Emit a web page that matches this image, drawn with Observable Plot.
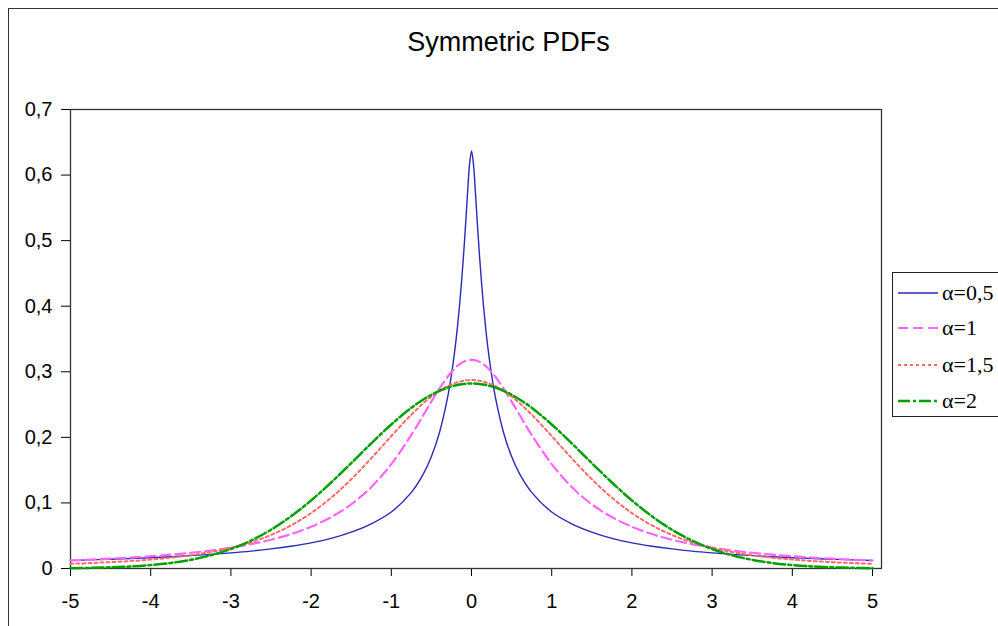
<!DOCTYPE html>
<html>
<head>
<meta charset="utf-8">
<script src="https://cdn.jsdelivr.net/npm/d3@7"></script>
<script src="https://cdn.jsdelivr.net/npm/@observablehq/plot@0.6"></script>
<style>
  html, body { margin: 0; padding: 0; background: #fff; }
  #wrap { position: relative; width: 998px; height: 626px; overflow: hidden; font-family: "Liberation Sans", Arial, sans-serif; }
  #outer { position: absolute; left: 8px; top: 8px; width: 1100px; height: 700px; border-left: 1.5px solid #333; border-top: 1.5px solid #333; box-sizing: border-box; }
  #plot { position: absolute; left: 0; top: 0; }
  #title { position: absolute; left: 0; width: 1017px; top: 27px; line-height: 30px; text-align: center; font-size: 27px; color: #000; }
  #legend { position: absolute; left: 892px; top: 272px; width: 140px; height: 145px; border: 1.5px solid #222; background: #fff; box-sizing: border-box; font-family: "Liberation Serif", "Times New Roman", serif; font-size: 22px; color: #000; }
  .row { position: absolute; left: 0; height: 24px; display: flex; align-items: center; }
  .row svg { display: block; margin-left: 5px; }
  .row span { margin-left: 4px; white-space: nowrap; }
</style>
</head>
<body>
<div id="wrap">
  <div id="outer"></div>
  <div id="plot"></div>
  <div id="title">Symmetric PDFs</div>
  <div id="legend"></div>
</div>
<script>
// x positions of the sampled points
const xValues = [-5, -4.75, -4.5, -4.25, -4, -3.75, -3.5, -3.25, -3, -2.75, -2.5, -2.25, -2, -1.75, -1.5, -1.25, -1, -0.75, -0.6, -0.5, -0.4, -0.3, -0.25, -0.2, -0.175, -0.15, -0.125, -0.1, -0.075, -0.05, -0.025,
  0, 0.025, 0.05, 0.075, 0.1, 0.125, 0.15, 0.175, 0.2, 0.25, 0.3, 0.4, 0.5, 0.6, 0.75, 1, 1.25, 1.5, 1.75, 2, 2.25, 2.5, 2.75, 3, 3.25, 3.5, 3.75, 4, 4.25, 4.5, 4.75, 5];

// alpha = 0,5
const alpha05 = [0.0123, 0.0132, 0.0142, 0.0153, 0.0165, 0.0179, 0.0196, 0.0215, 0.0238, 0.0265, 0.0299, 0.0340, 0.0391, 0.0459, 0.0554, 0.0681, 0.0861, 0.1161, 0.1443, 0.1708, 0.2071, 0.2597, 0.2957, 0.3411, 0.3684, 0.3999, 0.4357, 0.4764, 0.5222, 0.5710, 0.6156,
  0.6366, 0.6156, 0.5710, 0.5222, 0.4764, 0.4357, 0.3999, 0.3684, 0.3411, 0.2957, 0.2597, 0.2071, 0.1708, 0.1443, 0.1161, 0.0861, 0.0681, 0.0554, 0.0459, 0.0391, 0.0340, 0.0299, 0.0265, 0.0238, 0.0215, 0.0196, 0.0179, 0.0165, 0.0153, 0.0142, 0.0132, 0.0123];

// alpha = 1
const alpha1 = [0.0122, 0.0135, 0.0150, 0.0167, 0.0187, 0.0211, 0.0240, 0.0275, 0.0318, 0.0372, 0.0439, 0.0525, 0.0637, 0.0784, 0.0979, 0.1242, 0.1592, 0.2037, 0.2341, 0.2546, 0.2744, 0.2920, 0.2996, 0.3061, 0.3089, 0.3113, 0.3134, 0.3152, 0.3165, 0.3175, 0.3181,
  0.3183, 0.3181, 0.3175, 0.3165, 0.3152, 0.3134, 0.3113, 0.3089, 0.3061, 0.2996, 0.2920, 0.2744, 0.2546, 0.2341, 0.2037, 0.1592, 0.1242, 0.0979, 0.0784, 0.0637, 0.0525, 0.0439, 0.0372, 0.0318, 0.0275, 0.0240, 0.0211, 0.0187, 0.0167, 0.0150, 0.0135, 0.0122];

// alpha = 1,5
const alpha15 = [0.0071, 0.0083, 0.0097, 0.0114, 0.0137, 0.0165, 0.0202, 0.0251, 0.0315, 0.0400, 0.0511, 0.0658, 0.0845, 0.1080, 0.1361, 0.1681, 0.2020, 0.2347, 0.2521, 0.2623, 0.2710, 0.2780, 0.2808, 0.2831, 0.2841, 0.2850, 0.2857, 0.2863, 0.2868, 0.2871, 0.2873,
  0.2874, 0.2873, 0.2871, 0.2868, 0.2863, 0.2857, 0.2850, 0.2841, 0.2831, 0.2808, 0.2780, 0.2710, 0.2623, 0.2521, 0.2347, 0.2020, 0.1681, 0.1361, 0.1080, 0.0845, 0.0658, 0.0511, 0.0400, 0.0315, 0.0251, 0.0202, 0.0165, 0.0137, 0.0114, 0.0097, 0.0083, 0.0071];

// alpha = 2
const alpha2 = [0.0005, 0.0010, 0.0018, 0.0031, 0.0052, 0.0084, 0.0132, 0.0201, 0.0297, 0.0426, 0.0591, 0.0796, 0.1038, 0.1312, 0.1607, 0.1909, 0.2197, 0.2451, 0.2578, 0.2650, 0.2710, 0.2758, 0.2777, 0.2793, 0.2799, 0.2805, 0.2810, 0.2814, 0.2817, 0.2819, 0.2821,
  0.2821, 0.2821, 0.2819, 0.2817, 0.2814, 0.2810, 0.2805, 0.2799, 0.2793, 0.2777, 0.2758, 0.2710, 0.2650, 0.2578, 0.2451, 0.2197, 0.1909, 0.1607, 0.1312, 0.1038, 0.0796, 0.0591, 0.0426, 0.0297, 0.0201, 0.0132, 0.0084, 0.0052, 0.0031, 0.0018, 0.0010, 0.0005];

const xTicks = [-5, -4, -3, -2, -1, 0, 1, 2, 3, 4, 5];
const yTicks = [0, 0.1, 0.2, 0.3, 0.4, 0.5, 0.6, 0.7];
const seriesNames = ["α=0,5", "α=1", "α=1,5", "α=2"];

const seriesList = [
  {name: seriesNames[0], values: alpha05, stroke: "#2a2ab8", width: 1.4, dash: null},
  {name: seriesNames[1], values: alpha1, stroke: "#ff66ff", width: 2.2, dash: "10,5"},
  {name: seriesNames[2], values: alpha15, stroke: "#ff6a6a", width: 2, dash: "3,3"},
  {name: seriesNames[3], values: alpha2, stroke: "#00a000", width: 2.5, dash: "12,3,3,3"}
];

const lineMarks = seriesList.map(s =>
  Plot.line(xValues.map((x, i) => ({x, y: s.values[i]})), {
    x: "x", y: "y", stroke: s.stroke, strokeWidth: s.width,
    strokeDasharray: s.dash, curve: "catmull-rom"
  })
);

const chart = Plot.plot({
  width: 998,
  height: 626,
  marginLeft: 70,
  marginRight: 117,
  marginTop: 109,
  marginBottom: 58,
  style: {fontFamily: '"Liberation Sans", Arial, sans-serif', fontSize: "20px", color: "#000", background: "transparent"},
  x: {domain: [-5, 5.112], ticks: xTicks, tickSize: 8, tickPadding: 17, label: null,
      tickFormat: d => (d < 0 ? "-" + Math.abs(d) : String(d))},
  y: {domain: [0, 0.7], ticks: yTicks, tickSize: 9, tickPadding: 9, label: null,
      tickFormat: d => (d === 0 ? "0" : d.toFixed(1).replace(".", ","))},
  marks: [
    Plot.frame({stroke: "#333", strokeWidth: 1.3}),
    ...lineMarks
  ]
});
document.getElementById("plot").appendChild(chart);

// legend
const legend = document.getElementById("legend");
const rowCenters = [20, 55, 92, 128];
seriesList.forEach((s, i) => {
  const row = document.createElement("div");
  row.className = "row";
  row.style.top = (rowCenters[i] - 12) + "px";
  const ns = "http://www.w3.org/2000/svg";
  const svg = document.createElementNS(ns, "svg");
  svg.setAttribute("width", "40");
  svg.setAttribute("height", "10");
  const ln = document.createElementNS(ns, "line");
  ln.setAttribute("x1", "0"); ln.setAttribute("x2", "40");
  ln.setAttribute("y1", "5"); ln.setAttribute("y2", "5");
  ln.setAttribute("stroke", s.stroke);
  ln.setAttribute("stroke-width", s.width);
  if (s.dash) ln.setAttribute("stroke-dasharray", s.dash);
  svg.appendChild(ln);
  row.appendChild(svg);
  const sp = document.createElement("span");
  sp.textContent = s.name;
  row.appendChild(sp);
  legend.appendChild(row);
});
</script>
</body>
</html>
